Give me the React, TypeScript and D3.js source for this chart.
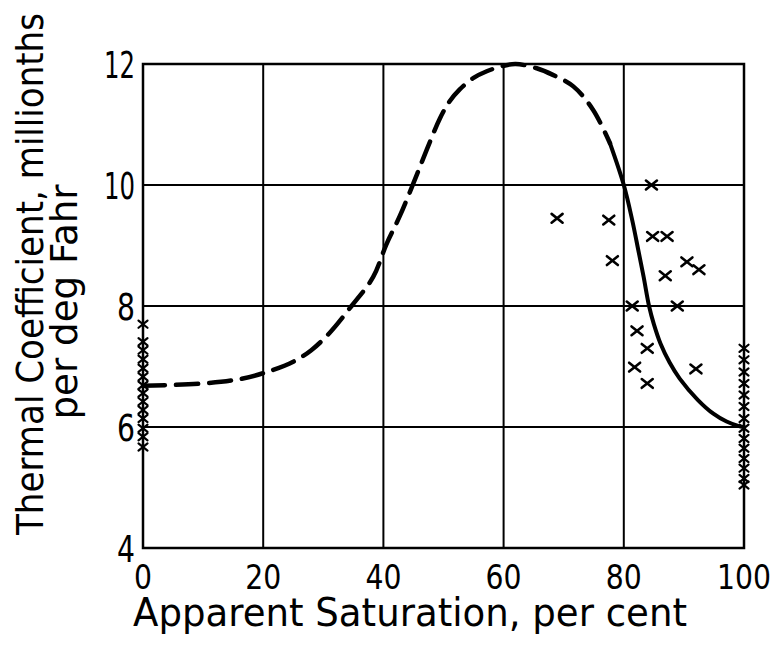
import React from "react";
import * as d3 from "d3";

const xTicks = [0, 20, 40, 60, 80, 100];
const yTicks = [4, 6, 8, 10, 12];

// dashed (inferred) part of the curve
const dashedX = [0, 10, 16, 20, 25, 28, 31, 34.7, 38.3, 40.5, 42.7, 45, 47.2, 49.4, 51, 52.7, 55, 57.2, 60, 62, 65.5, 68.2, 71.6, 74.9, 77.7];
const dashedY = [6.68, 6.72, 6.79, 6.89, 7.08, 7.27, 7.55, 8.0, 8.48, 9.02, 9.48, 10.03, 10.58, 11.1, 11.38, 11.58, 11.77, 11.88, 11.97, 12.0, 11.93, 11.82, 11.63, 11.24, 10.69];

// solid (measured) part of the curve
const solidX = [77.7, 80, 81.4, 82.4, 83.3, 84.2, 85.0, 86.1, 87.6, 89.3, 92.3, 94.9, 97.1, 99.3, 100];
const solidY = [10.69, 10.0, 9.42, 8.93, 8.48, 8.0, 7.7, 7.38, 7.07, 6.8, 6.45, 6.22, 6.09, 6.01, 6.0];

// scattered observations
const obsX = [68.9, 77.5, 78.1, 84.6, 84.8, 87.2, 90.5, 92.5, 86.9, 81.4, 88.9, 82.2, 83.9, 81.8, 92.0, 83.9];
const obsY = [9.45, 9.42, 8.75, 10.0, 9.15, 9.15, 8.73, 8.6, 8.5, 8.0, 8.0, 7.59, 7.3, 6.99, 6.96, 6.72];

// observations stacked at 0 per cent
const zeroY = [7.70, 7.41, 7.27, 7.12, 6.97, 6.83, 6.69, 6.56, 6.42, 6.28, 6.14, 5.98, 5.84, 5.67];
// observations stacked at 100 per cent
const fullY = [7.30, 7.11, 6.91, 6.72, 6.53, 6.34, 6.14, 5.98, 5.81, 5.65, 5.48, 5.32, 5.15, 5.04];

const W = 774;
const H = 648;
const FONT = "'DejaVu Sans', sans-serif";

export default function App() {
  const x = d3.scaleLinear().domain([0, 100]).range([143, 744]);
  const y = d3.scaleLinear().domain([4, 12]).range([548, 64]);

  const line = d3
    .line<[number, number]>()
    .x((d) => x(d[0]))
    .y((d) => y(d[1]))
    .curve(d3.curveCatmullRom.alpha(0.5));

  const dashed = line(dashedX.map((v, i) => [v, dashedY[i]]));
  const solid = line(solidX.map((v, i) => [v, solidY[i]]));

  const cross = (cx: number, cy: number, r: number, sw: number, key: string) => (
    <g key={key} stroke="#000" strokeWidth={sw} strokeLinecap="round">
      <line x1={cx - r} y1={cy - r * 0.8} x2={cx + r} y2={cy + r * 0.8} />
      <line x1={cx - r} y1={cy + r * 0.8} x2={cx + r} y2={cy - r * 0.8} />
    </g>
  );

  return (
    <svg
      width={W}
      height={H}
      style={{ position: "absolute", left: 0, top: 0, background: "#fff" }}
      fontFamily={FONT}
    >
      <rect width={W} height={H} fill="#fff" />
      {/* grid */}
      {xTicks.slice(1, -1).map((t) => (
        <line key={"gx" + t} x1={x(t)} x2={x(t)} y1={y(4)} y2={y(12)} stroke="#000" strokeWidth={2} />
      ))}
      {yTicks.slice(1, -1).map((t) => (
        <line key={"gy" + t} x1={x(0)} x2={x(100)} y1={y(t)} y2={y(t)} stroke="#000" strokeWidth={2} />
      ))}
      <rect x={x(0)} y={y(12)} width={x(100) - x(0)} height={y(4) - y(12)} fill="none" stroke="#000" strokeWidth={2.5} />

      {/* curves */}
      <path d={dashed || ""} fill="none" stroke="#000" strokeWidth={4.5} strokeDasharray="22 11" strokeLinecap="round" />
      <path d={solid || ""} fill="none" stroke="#000" strokeWidth={4} strokeLinecap="round" />

      {/* points */}
      {obsX.map((v, i) => cross(x(v), y(obsY[i]), 5.5, 2.6, "o" + i))}
      {zeroY.map((v, i) => cross(x(0), y(v), 4.5, 2.2, "z" + i))}
      {fullY.map((v, i) => cross(x(100), y(v), 4.5, 2.2, "f" + i))}

      {/* tick labels */}
      {xTicks.map((t) => (
        <text
          key={"xt" + t}
          x={x(t)}
          y={589}
          textAnchor="middle"
          fontSize={33}
          textLength={String(t).length * 18}
          lengthAdjust="spacingAndGlyphs"
        >
          {t}
        </text>
      ))}
      {yTicks.map((t) => (
        <text
          key={"yt" + t}
          x={135}
          y={y(t) + 14}
          textAnchor="end"
          fontSize={38}
          textLength={String(t).length === 1 ? 18 : 31}
          lengthAdjust="spacingAndGlyphs"
        >
          {t}
        </text>
      ))}

      {/* axis titles */}
      <text x={133} y={626} fontSize={39} textLength={554} lengthAdjust="spacingAndGlyphs">
        Apparent Saturation, per cent
      </text>
      <text
        transform="translate(43,274) rotate(-90)"
        textAnchor="middle"
        fontSize={38}
        textLength={522}
        lengthAdjust="spacingAndGlyphs"
      >
        Thermal Coefficient, millionths
      </text>
      <text
        transform="translate(77,302) rotate(-90)"
        textAnchor="middle"
        fontSize={38}
        textLength={235}
        lengthAdjust="spacingAndGlyphs"
      >
        per deg Fahr
      </text>
    </svg>
  );
}
